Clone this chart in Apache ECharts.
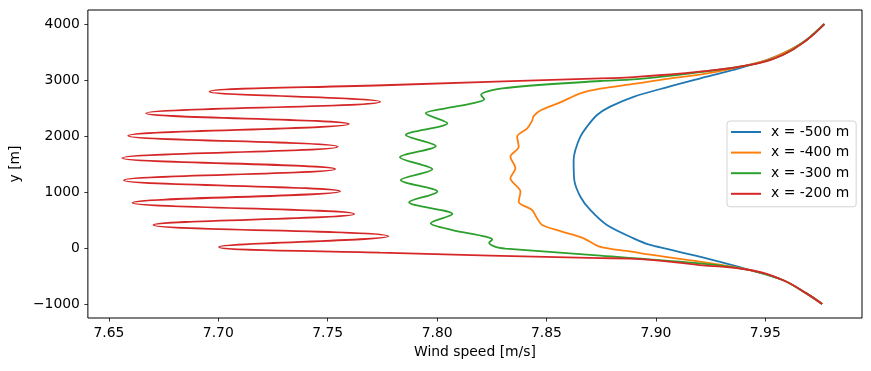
<!DOCTYPE html>
<html>
<head>
<meta charset="utf-8">
<script src="https://cdn.jsdelivr.net/npm/echarts@6/dist/echarts.min.js"></script>
<style>
html,body{margin:0;padding:0;background:#fff;}
#chart{width:871px;height:371px;}
</style>
</head>
<body>
<div id="chart"></div>
<script>
// Tick labels
const xTicks = [7.65, 7.70, 7.75, 7.80, 7.85, 7.90, 7.95];
const yTicks = [-1000, 0, 1000, 2000, 3000, 4000];

// Series names
const seriesNames = ['x = -500 m', 'x = -400 m', 'x = -300 m', 'x = -200 m'];

// x = -500 m
const ws500 = [7.977, 7.9688, 7.9612, 7.9506, 7.9353, 7.920, 7.905, 7.8898, 7.8791, 7.8731, 7.8685, 7.8655, 7.8632, 7.8624, 7.8627, 7.8655, 7.870, 7.8776, 7.8898, 7.8974, 7.905, 7.920, 7.943, 7.958, 7.9688, 7.976];
const y500  = [4000, 3714, 3536, 3357, 3179, 3025, 2870, 2700, 2524, 2375, 2167, 1988, 1750, 1571, 1214, 916, 679, 411, 173, 54, -15, -155, -393, -571, -810, -1000];

// x = -400 m
const ws400 = [7.977, 7.9688, 7.9612, 7.9506, 7.9353, 7.920, 7.905, 7.8898, 7.8746, 7.8655, 7.8563, 7.8472, 7.8442, 7.8434, 7.8412, 7.8366, 7.8373, 7.8335, 7.8358, 7.8335, 7.8381, 7.8373, 7.8434, 7.8457, 7.848, 7.8571, 7.867, 7.8746, 7.8882, 7.8974, 7.920, 7.943, 7.958, 7.9688, 7.976];
const y400  = [4000, 3714, 3536, 3357, 3208, 3095, 3020, 2930, 2845, 2762, 2600, 2455, 2360, 2270, 2137, 1988, 1809, 1631, 1423, 1245, 1006, 827, 679, 530, 411, 292, 173, 20, -60, -120, -244, -393, -571, -810, -1000];

// x = -300 m
const ws300 = [7.977, 7.9688, 7.958, 7.943, 7.920, 7.905, 7.888, 7.8746, 7.8298, 7.8201, 7.8216, 7.8161, 7.8039, 7.7948, 7.8047, 7.7857, 7.7994, 7.783, 7.7978, 7.7834, 7.8001, 7.7872, 7.807, 7.7971, 7.807, 7.8222, 7.8252, 7.8238, 7.8267, 7.8313, 7.8746, 7.920, 7.943, 7.958, 7.9688, 7.976];
const y300  = [4000, 3714, 3446, 3268, 3140, 3068, 3005, 2982, 2851, 2732, 2655, 2583, 2494, 2405, 2226, 2018, 1821, 1619, 1405, 1214, 1006, 816, 607, 441, 321, 202, 150, 95, 20, -10, -137, -274, -393, -571, -810, -1000];

// x = -200 m
const ws200 = [7.977, 7.969, 7.958, 7.943, 7.920, 7.888, 7.8746, 7.779, 7.696, 7.774, 7.667, 7.7596, 7.6588, 7.7546, 7.6561, 7.7535, 7.6568, 7.7557, 7.6608, 7.7621, 7.6704, 7.7778, 7.7003, 7.774, 7.8746, 7.888, 7.920, 7.943, 7.958, 7.9688, 7.976];
const y200  = [4000, 3714, 3446, 3268, 3149, 3048, 3030, 2911, 2791, 2613, 2405, 2214, 2005, 1810, 1607, 1411, 1209, 1012, 809, 607, 411, 209, 18, -84, -180, -190, -304, -393, -571, -810, -1000];

const colors = ['#1f77b4', '#ff7f0e', '#2ca02c', '#d62728'];
const xs = [ws500, ws400, ws300, ws200];
const ys = [y500, y400, y300, y200];
const smoothing = [0.3, 0.3, 0.3, 0.45];

const FONT = 'DejaVu Sans';
const chart = echarts.init(document.getElementById('chart'), null, {renderer: 'canvas'});

function fmtY(v) {
  const s = String(Math.round(v));
  return s.replace('-', '\u2212');
}

const option = {
  animation: false,
  backgroundColor: '#ffffff',
  textStyle: {fontFamily: FONT},
  grid: {
    left: 86, right: 9, top: 10, bottom: 53,
    show: true, borderColor: '#000', borderWidth: 1, backgroundColor: 'transparent'
  },
  legend: {
    orient: 'vertical',
    left: 727, top: 121,
    padding: [4, 7, 6, 4],
    itemGap: 6.6,
    itemWidth: 30, itemHeight: 14,
    borderColor: '#d3d3d3', borderWidth: 1, borderRadius: 3,
    backgroundColor: 'rgba(255,255,255,0.8)',
    textStyle: {fontFamily: FONT, fontSize: 13.9, color: '#000', padding: [0, 0, 0, 5]},
    data: seriesNames.map((n) => ({name: n, icon: 'path://M0,6 L30,6 L30,8 L0,8 Z'}))
  },
  xAxis: {
    type: 'value',
    min: 7.6404, max: 7.9942,
    name: 'Wind speed [m/s]',
    nameLocation: 'middle',
    nameGap: 27,
    nameTextStyle: {fontFamily: FONT, fontSize: 13.9, color: '#000'},
    axisLine: {show: false, onZero: false},
    splitLine: {show: false},
    axisTick: {show: true, inside: false, length: 3.5, lineStyle: {color: '#000', width: 0.8}, customValues: xTicks},
    axisLabel: {show: true, margin: 8, fontFamily: FONT, fontSize: 13.9, color: '#000', customValues: xTicks,
      formatter: (v) => Number(v).toFixed(2)}
  },
  yAxis: {
    type: 'value',
    min: -1250, max: 4250,
    name: 'y [m]',
    nameLocation: 'middle',
    nameGap: 62,
    nameTextStyle: {fontFamily: FONT, fontSize: 13.9, color: '#000'},
    axisLine: {show: false, onZero: false},
    splitLine: {show: false},
    axisTick: {show: true, inside: false, length: 3.5, lineStyle: {color: '#000', width: 0.8}, customValues: yTicks},
    axisLabel: {show: true, margin: 8, fontFamily: FONT, fontSize: 13.9, color: '#000', customValues: yTicks,
      formatter: fmtY}
  },
  series: seriesNames.map((name, i) => ({
    name: name,
    type: 'line',
    data: xs[i].map((x, k) => [x, ys[i][k]]),
    symbol: 'none',
    showSymbol: false,
    smooth: smoothing[i],
    lineStyle: {color: colors[i], width: 1.8},
    itemStyle: {color: colors[i]},
    z: 2 + i
  }))
};
chart.setOption(option);
</script>
</body>
</html>
